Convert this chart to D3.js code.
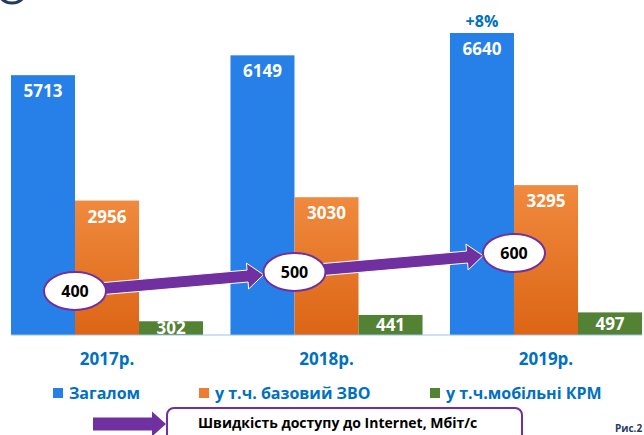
<html>
<head>
<meta charset="utf-8">
<script src="https://d3js.org/d3.v7.min.js"></script>
<style>
  body { margin: 0; background: #fff; }
  text { font-family: "Open Sans", sans-serif; font-weight: bold; }
</style>
</head>
<body>
<svg id="chart" width="644" height="435"></svg>
<script>
// data
var years = ["2017р.", "2018р.", "2019р."];
var total = [5713, 6149, 6640];
var base = [2956, 3030, 3295];
var mobile = [302, 441, 497];
var speed = [400, 500, 600];
var seriesNames = ["Загалом", "у т.ч. базовий ЗВО", "у т.ч.мобільні КРМ"];
var seriesColors = ["#2780E8", "url(#orangeGrad)", "#548235"];
var legendColors = ["#2780E8", "#ED7D31", "#548235"];

var svg = d3.select("#chart");
var blueText = "#0070C0";
var purple = "#7030A0";

var defs = svg.append("defs");
var og = defs.append("linearGradient").attr("id", "orangeGrad")
    .attr("x1", 0).attr("y1", 0).attr("x2", 0).attr("y2", 1);
og.append("stop").attr("offset", "0%").attr("stop-color", "#F08A3E");
og.append("stop").attr("offset", "100%").attr("stop-color", "#DC6515");

// logo fragment at the top left
svg.append("circle").attr("cx", 12).attr("cy", -12).attr("r", 15)
    .attr("fill", "none").attr("stroke", "#1F3864").attr("stroke-width", 3);

var x = d3.scaleBand().domain(years).range([0, 653])
    .paddingInner(0.125).paddingOuter(0.05);
var x1 = d3.scaleBand().domain([0, 1, 2]).range([0, x.bandwidth()]);
var y = d3.scaleLinear().domain([0, 6640]).range([335, 33]);
var y2 = d3.scaleLinear().domain([400, 600]).range([291, 253]);

var series = [total, base, mobile];

series.forEach(function(vals, s) {
    var g = svg.append("g");
    g.selectAll("rect").data(vals).enter().append("rect")
        .attr("x", function(d, i) { return x(years[i]) + x1(s); })
        .attr("y", function(d) { return y(d); })
        .attr("width", x1.bandwidth())
        .attr("height", function(d) { return y(0) - y(d); })
        .attr("fill", seriesColors[s]);
    g.selectAll("text").data(vals).enter().append("text")
        .attr("x", function(d, i) { return x(years[i]) + x1(s) + x1.bandwidth() / 2; })
        .attr("y", function(d) {
            return s == 2 ? (y(d) + y(0)) / 2 + 6 : y(d) + 22;
        })
        .attr("text-anchor", "middle")
        .attr("fill", "#fff")
        .attr("font-size", 17)
        .text(function(d) { return d; });
});

// baseline
svg.append("line").attr("x1", 11).attr("x2", 642).attr("y1", y(0)).attr("y2", y(0))
    .attr("stroke", "#9DC3E6").attr("stroke-width", 1);

// category labels
svg.selectAll(".cat").data(years).enter().append("text")
    .attr("x", function(d) { return x(d) + x.bandwidth() / 2; })
    .attr("y", 365)
    .attr("text-anchor", "middle")
    .attr("fill", blueText)
    .attr("font-size", 17)
    .text(function(d) { return d; });

// +8%
svg.append("text")
    .attr("x", x(years[2]) + x1(0) + x1.bandwidth() / 2)
    .attr("y", y(total[2]) - 6)
    .attr("text-anchor", "middle")
    .attr("fill", blueText)
    .attr("font-size", 16)
    .text("+8%");

// arrow polygon helper
function arrowPoints(x0, y0, xt, yt, hw, headHw, headLen) {
    var dx = xt - x0, dy = yt - y0;
    var len = Math.sqrt(dx * dx + dy * dy);
    var ux = dx / len, uy = dy / len;
    var nx = -uy, ny = ux;
    var bx = xt - ux * headLen, by = yt - uy * headLen;
    return [
        [x0 + nx * hw, y0 + ny * hw],
        [bx + nx * hw, by + ny * hw],
        [bx + nx * headHw, by + ny * headHw],
        [xt, yt],
        [bx - nx * headHw, by - ny * headHw],
        [bx - nx * hw, by - ny * hw],
        [x0 - nx * hw, y0 - ny * hw]
    ];
}

// speed points
var pts = speed.map(function(v, i) {
    return { v: v, cx: x(years[i]) + x1(1), cy: y2(v) };
});
var rx = 31, ry = 19;

for (var i = 0; i < pts.length - 1; i++) {
    var a = pts[i], b = pts[i + 1];
    var tipX = b.cx - rx;
    var tipY = a.cy + (b.cy - a.cy) * (tipX - a.cx) / (b.cx - a.cx);
    svg.append("polygon")
        .attr("points", arrowPoints(a.cx, a.cy, tipX, tipY, 6, 13, 16).join(" "))
        .attr("fill", purple).attr("stroke", "#fff").attr("stroke-width", 1);
}

svg.selectAll(".speed").data(pts).enter().append("ellipse")
    .attr("cx", function(d) { return d.cx; })
    .attr("cy", function(d) { return d.cy; })
    .attr("rx", rx).attr("ry", ry)
    .attr("fill", "#fff").attr("stroke", purple).attr("stroke-width", 2);
svg.selectAll(".speedTxt").data(pts).enter().append("text")
    .attr("x", function(d) { return d.cx; })
    .attr("y", function(d) { return d.cy + 6; })
    .attr("text-anchor", "middle")
    .attr("fill", "#000")
    .attr("font-size", 16)
    .text(function(d) { return d.v; });

// legend
var legX = [53, 199, 430];
var leg = svg.selectAll(".leg").data(seriesNames).enter().append("g")
    .attr("transform", function(d, i) { return "translate(" + legX[i] + ",388)"; });
leg.append("rect").attr("width", 10).attr("height", 10)
    .attr("fill", function(d, i) { return legendColors[i]; });
leg.append("text").attr("x", 16).attr("y", 11)
    .attr("fill", blueText).attr("font-size", 16)
    .text(function(d) { return d; });

// bottom note with arrow
svg.append("polygon")
    .attr("points", arrowPoints(93, 424, 166, 424, 6.5, 12.5, 14).join(" "))
    .attr("fill", purple);
svg.append("rect").attr("x", 167).attr("y", 408).attr("width", 355).attr("height", 40)
    .attr("rx", 7).attr("fill", "#fff").attr("stroke", purple).attr("stroke-width", 2);
svg.append("text").attr("x", 198).attr("y", 428)
    .attr("fill", "#000").attr("font-size", 14)
    .text("Швидкість доступу до Internet, Мбіт/с");

svg.append("text").attr("x", 615).attr("y", 432)
    .attr("fill", "#1F3864").attr("font-size", 10)
    .text("Рис.2");
</script>
</body>
</html>
